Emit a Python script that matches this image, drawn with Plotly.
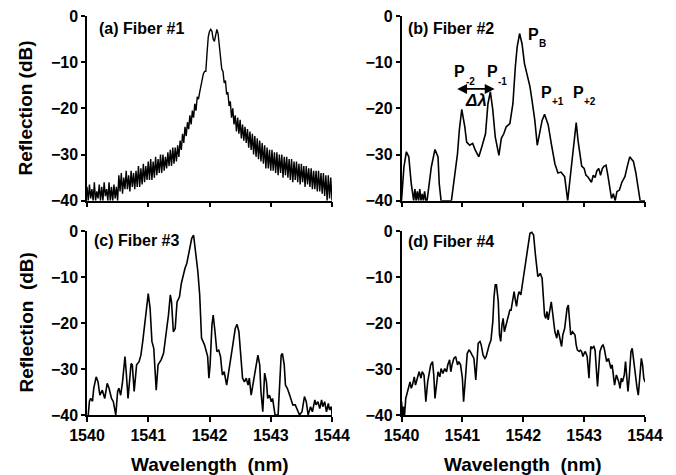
import plotly.graph_objects as go

W, H = 676, 475

# ---------------- data ----------------
wl_a = [round(1540 + 0.02 * i, 2) for i in range(201)]
db_a = [
    -37, -40, -36.5, -39.5, -37.5, -40, -36, -40, -38, -39.5, -36.5, -40, -37, -40, -36, -39,
    -37.5, -40, -36, -40, -37, -40, -36.5, -39.5, -37, -40,
    -34.5, -38, -34, -38.5, -35, -37.5, -33.5, -37.5, -34.5, -38, -33.5, -37, -34, -37.5, -33.5,
    -37, -32.5, -37, -33, -36.5, -32, -36, -32.5, -35.5, -31.5,
    -35.5, -31, -35.5, -31.5, -35, -30.5, -34.5, -31, -34, -30,
    -34, -30, -33.5, -30.5, -33, -29.5, -32.5, -29, -32.5, -28.5,
    -32, -28.5, -31.5, -28, -30.5,
    -27, -29, -25.5, -27.5, -24,
    -26, -23, -24.5, -21.5, -23.5,
    -20.5, -22, -19, -20.5, -17.5,
    -18, -16.5, -15,
    -13.5, -12.5, -12,
    -12, -8, -4.5, -3.3, -2.9, -3.3, -5, -5.5, -3.8, -2.9, -3.8, -7, -8.5, -11.5, -12, -14.5,
    -14, -17, -16.5, -19.5, -18.5, -22, -20, -23.5,
    -21.5, -25, -22, -25.5, -22.5, -26.5, -23.5, -27, -24, -27.5,
    -24.5, -28.5, -25, -29, -25.5, -30, -26, -30.5, -26.5, -31,
    -27, -31.5, -27.5, -32, -28, -33, -28.5, -33, -29, -33.5,
    -29, -33.5, -29.5, -34, -29.5, -34.5, -30, -34, -30, -35,
    -30.5, -34.5, -30.5, -35, -31, -35.5, -31, -36, -31.5, -35.5,
    -31.5, -36, -32, -36.5, -32, -36, -32.5, -37, -32.5, -36.5,
    -33, -37, -33, -37.5, -33.5, -37.5, -33.5, -38, -33.5, -38,
    -34, -38.5, -34, -39, -34.5, -40, -34.5, -39.5, -35, -40,
]

wl_b = [1540.00, 1540.04, 1540.08, 1540.12, 1540.16, 1540.20, 1540.22, 1540.24, 1540.26, 1540.28,
        1540.30, 1540.32, 1540.34, 1540.36, 1540.38, 1540.40, 1540.42, 1540.45, 1540.49, 1540.55,
        1540.60, 1540.62, 1540.65, 1540.82, 1540.86, 1540.92, 1540.95, 1540.99, 1541.04, 1541.07,
        1541.12, 1541.17, 1541.21, 1541.27, 1541.32, 1541.38, 1541.42, 1541.46, 1541.50, 1541.54,
        1541.60, 1541.64, 1541.68, 1541.72, 1541.78, 1541.83, 1541.87, 1541.90, 1541.94, 1541.98,
        1542.02, 1542.07, 1542.11, 1542.14, 1542.19, 1542.23, 1542.27, 1542.31, 1542.35, 1542.41,
        1542.46, 1542.52, 1542.57, 1542.62, 1542.68, 1542.71, 1542.73, 1542.79, 1542.83, 1542.87,
        1542.90, 1542.93, 1542.96, 1543.00, 1543.03, 1543.06, 1543.09, 1543.12, 1543.15, 1543.18,
        1543.21, 1543.24, 1543.27, 1543.30, 1543.33, 1543.36, 1543.39, 1543.42, 1543.45, 1543.48,
        1543.51, 1543.54, 1543.58, 1543.62, 1543.67, 1543.71, 1543.75, 1543.78, 1543.81, 1543.85,
        1543.89, 1543.92, 1544.00]
db_b = [-40, -32.7, -29.4, -30.5, -36.3, -40, -37.5, -40, -38, -40,
        -37.5, -40, -38.5, -40, -38, -40, -40, -36.5, -32.7, -28.9,
        -30.5, -36.3, -40, -40, -35.6, -29.8, -24.7, -20.2, -24, -27.3,
        -28, -27.6, -29, -30.5, -28.3, -25.5, -19, -16.4, -20.4, -26.2,
        -30.2, -26.5, -25.5, -24, -23.3, -19, -11, -6.7, -3.8, -6,
        -10.3, -13.2, -15.3, -17.9, -22.6, -28, -25.5, -22.6, -21.3, -23.6,
        -27.6, -32, -34, -33.8, -34.8, -37.7, -40, -32.7, -27.6, -23.1,
        -27, -30, -32.5, -33, -34.5, -34.8, -35.5, -36, -34.5, -35,
        -33.5, -33, -34.5, -33, -32.5, -32.3, -34.5, -37, -39.5, -38.5,
        -40, -38, -37.7, -36, -34.8, -32.5, -30.5, -31, -31.5, -34,
        -37, -40, -40]

wl_c = [1540.02, 1540.04, 1540.06, 1540.09, 1540.11, 1540.15, 1540.18, 1540.21, 1540.25, 1540.29,
        1540.33, 1540.36, 1540.40, 1540.43, 1540.47, 1540.50, 1540.52, 1540.55, 1540.58, 1540.62,
        1540.64, 1540.67, 1540.72, 1540.74, 1540.77, 1540.81, 1540.85, 1540.88, 1540.91, 1540.94,
        1540.98, 1541.00, 1541.03, 1541.06, 1541.09, 1541.11, 1541.13, 1541.16, 1541.21, 1541.25,
        1541.29, 1541.33, 1541.36, 1541.38, 1541.41, 1541.44, 1541.47, 1541.51, 1541.54, 1541.58,
        1541.60, 1541.63, 1541.67, 1541.71, 1541.74, 1541.77, 1541.81, 1541.84, 1541.87, 1541.92,
        1541.95, 1541.97, 1541.99, 1542.01, 1542.04, 1542.06, 1542.09, 1542.12, 1542.15, 1542.18,
        1542.21, 1542.24, 1542.28, 1542.31, 1542.34, 1542.38, 1542.42, 1542.45, 1542.48, 1542.51,
        1542.54, 1542.57, 1542.60, 1542.63, 1542.65, 1542.68, 1542.72, 1542.76, 1542.79, 1542.82,
        1542.84, 1542.87, 1542.90, 1542.93, 1542.95, 1542.98, 1543.01, 1543.03, 1543.07, 1543.12,
        1543.14, 1543.17, 1543.19, 1543.22, 1543.24, 1543.27, 1543.31, 1543.34, 1543.36, 1543.40,
        1543.43, 1543.47, 1543.51, 1543.55, 1543.58, 1543.61, 1543.65, 1543.68, 1543.72, 1543.74,
        1543.77, 1543.80, 1543.83, 1543.85, 1543.88, 1543.91, 1543.94, 1543.96, 1543.99, 1544.00]
db_c = [-40, -37, -36.4, -37, -34.2, -31.7, -32.8, -35.7, -34.6, -36.4,
        -33.1, -34.2, -36.4, -37.1, -40, -34.9, -34.2, -35.7, -32.8, -27.3,
        -30.6, -36.4, -28.8, -29.1, -34.9, -29.1, -28.4, -27, -24, -20.4,
        -16.1, -13.6, -16.8, -24, -25.5, -29.1, -34.6, -29.1, -28, -26.6,
        -22.6, -18.3, -13.9, -15.4, -21.9, -21.2, -15.4, -14.3, -11.4, -8.8,
        -8.1, -7, -4.5, -1.6, -0.9, -3.8, -8.8, -13.9, -23.3, -24.8,
        -26.2, -27.3, -32, -29.1, -20.4, -18.3, -21.9, -26.2, -25.9, -27.3,
        -31.3, -30.6, -33.5, -30.6, -27.7, -24.8, -21.2, -20.3, -21.9, -27.7,
        -32, -32.8, -32, -33.5, -32, -35.7, -32.8, -29.9, -27, -29.1,
        -34.9, -39.3, -30.9, -32.8, -36.4, -35.7, -37.1, -36.4, -40, -40,
        -33.5, -27, -26.6, -29.1, -33.5, -34.2, -35.7, -37.1, -37.8, -37.8,
        -38.6, -40, -39.3, -36, -37.1, -40, -38.2, -39.3, -36.7, -37.8,
        -37.1, -38.6, -36.7, -38.2, -37.1, -39.3, -37.5, -38.9, -38.2, -40]

wl_d = [1540.00, 1540.02, 1540.03, 1540.05, 1540.07, 1540.10, 1540.12, 1540.14, 1540.16, 1540.18,
        1540.21, 1540.23, 1540.26, 1540.29, 1540.32, 1540.34, 1540.37, 1540.40, 1540.43, 1540.45,
        1540.48, 1540.51, 1540.53, 1540.55, 1540.58, 1540.60, 1540.63, 1540.65, 1540.68, 1540.71,
        1540.74, 1540.76, 1540.79, 1540.81, 1540.83, 1540.86, 1540.89, 1540.92, 1540.94, 1540.97,
        1541.00, 1541.02, 1541.05, 1541.08, 1541.11, 1541.13, 1541.16, 1541.19, 1541.22, 1541.24,
        1541.26, 1541.29, 1541.31, 1541.34, 1541.37, 1541.39, 1541.42, 1541.44, 1541.47, 1541.50,
        1541.52, 1541.54, 1541.56, 1541.59, 1541.61, 1541.63, 1541.65, 1541.67, 1541.69, 1541.72,
        1541.74, 1541.76, 1541.78, 1541.80, 1541.83, 1541.85, 1541.87, 1541.89, 1541.91, 1541.93,
        1541.96, 1541.98, 1542.00, 1542.02, 1542.04, 1542.07, 1542.09, 1542.11, 1542.14, 1542.17,
        1542.20, 1542.22, 1542.24, 1542.26, 1542.28, 1542.31, 1542.33, 1542.35, 1542.37, 1542.39,
        1542.41, 1542.44, 1542.46, 1542.48, 1542.50, 1542.52, 1542.55, 1542.57, 1542.59, 1542.61,
        1542.63, 1542.65, 1542.68, 1542.70, 1542.72, 1542.74, 1542.76, 1542.78, 1542.81, 1542.83,
        1542.85, 1542.87, 1542.89, 1542.92, 1542.94, 1542.96, 1542.98, 1543.00, 1543.02, 1543.05,
        1543.08, 1543.09, 1543.11, 1543.13, 1543.16, 1543.18, 1543.20, 1543.22, 1543.24, 1543.26,
        1543.29, 1543.31, 1543.33, 1543.35, 1543.37, 1543.40, 1543.42, 1543.44, 1543.46, 1543.48,
        1543.50, 1543.53, 1543.55, 1543.57, 1543.59, 1543.61, 1543.63, 1543.66, 1543.68, 1543.70,
        1543.72, 1543.74, 1543.77, 1543.79, 1543.81, 1543.83, 1543.85, 1543.87, 1543.89, 1543.92,
        1543.94, 1543.96, 1543.98, 1544.00]
db_d = [-37.1, -40, -38.2, -40, -36.4, -34.9, -34.2, -32.8, -34.2, -33.5,
        -31.7, -33.5, -32, -30.6, -32, -30.6, -31.3, -37.1, -32.8, -31.3,
        -29.1, -28.4, -31.3, -36.4, -32, -30.6, -31.7, -29.9, -31, -29.9,
        -30.6, -29.1, -28, -30.6, -29.1, -27.7, -27.3, -29.1, -28.4, -29.1,
        -32, -37.1, -32, -26.6, -25.9, -26.2, -27, -27.7, -32.4, -27.7,
        -24.4, -24, -24.8, -27, -27.7, -27.3, -25.5, -24.8, -23.7, -19.7,
        -14.3, -11.7, -11.7, -15.4, -22.6, -24, -20.4, -19, -21.9, -20.4,
        -19.7, -18.3, -17.2, -17.2, -15, -13.2, -15, -16.4, -14.3, -13.2,
        -13.9, -12.1, -10.7, -8.1, -6.3, -4.5, -2.3, -0.5, -0.3, -0.9,
        -5.2, -8.5, -9.9, -9.6, -9.2, -10.3, -13.9, -18.3, -19, -17.5,
        -19.3, -16.8, -15.4, -17.5, -19.7, -21.9, -23.3, -21.5, -22.6, -24,
        -25.1, -22.6, -21.2, -19, -16.8, -16.1, -19, -22.6, -21.9, -22.2,
        -22.6, -24.8, -25.9, -26.2, -25.9, -26.2, -27.3, -26.6, -26.2, -27.3,
        -32, -29.1, -25.1, -25.5, -25.1, -25.9, -29.1, -33.8, -29.9, -26.2,
        -25.1, -24.8, -25.5, -27, -28.4, -27.7, -29.1, -29.9, -29.1, -31.3,
        -33.5, -31.3, -32, -32.8, -34.2, -32, -32.8, -31.3, -28.4, -31.3,
        -34.9, -32, -26.2, -25.5, -27.7, -30.6, -32, -34.2, -35.7, -29.9,
        -27.7, -29.1, -32, -32.8]

x_ticks = [1540, 1541, 1542, 1543, 1544]
y_ticks = [-40, -30, -20, -10, 0]
panel_labels = ["(a) Fiber #1", "(b) Fiber #2", "(c) Fiber #3", "(d) Fiber #4"]
x_title = "Wavelength\u00a0\u00a0(nm)"
y_titles = ["Reflection (dB)", "Reflection\u00a0\u00a0(dB)"]

assert len(wl_a) == len(db_a)
assert len(wl_b) == len(db_b)
assert len(wl_c) == len(db_c)
assert len(wl_d) == len(db_d)

# ---------------- layout helpers ----------------
FONT = "Liberation Sans, Arial, Helvetica, sans-serif"


def px(x):
    return x / W


def py(y):
    return 1 - y / H


x_dom = [[px(87), px(332)], [px(401.5), px(645)]]
y_dom = [[py(200.7), py(16)], [py(415), py(231)]]

fig = go.Figure()
series = [(wl_a, db_a, 1.4), (wl_b, db_b, 1.6), (wl_c, db_c, 1.6), (wl_d, db_d, 1.6)]
for k, (xs, ys, lw) in enumerate(series):
    sfx = "" if k == 0 else str(k + 1)
    fig.add_trace(go.Scatter(x=xs, y=ys, mode="lines", line=dict(color="black", width=lw),
                             xaxis="x" + sfx, yaxis="y" + sfx, showlegend=False,
                             hoverinfo="skip"))

ax_common = dict(showline=True, linecolor="black", linewidth=1.5, showgrid=False,
                 zeroline=False, ticks="outside", tickcolor="black", tickwidth=1.5,
                 automargin=False)
lay = {}
for k in range(4):
    sfx = "" if k == 0 else str(k + 1)
    col = k % 2
    row = k // 2
    lay["xaxis" + sfx] = dict(ax_common, domain=x_dom[col], anchor="y" + sfx,
                              range=[1540, 1544], tickvals=x_ticks, ticklen=5,
                              showticklabels=(row == 1), ticklabelstandoff=0,
                              tickfont=dict(family=FONT, size=16, color="black", weight="bold"))
    lay["yaxis" + sfx] = dict(ax_common, domain=y_dom[row], anchor="x" + sfx,
                              range=[-40, 0], tickvals=y_ticks, ticklen=4,
                              ticklabelstandoff=0,
                              tickfont=dict(family=FONT, size=16, color="black", weight="bold"))

annotations = []
lab_pos = [(97, 28), (406, 28), (92, 240), (406, 241)]
for (lx, ly), txt in zip(lab_pos, panel_labels):
    annotations.append(dict(text=txt, x=px(lx), y=py(ly), xref="paper", yref="paper",
                            xanchor="left", yanchor="middle", showarrow=False,
                            font=dict(family=FONT, size=16, color="black", weight="bold")))

for cx in [209.5, 523]:
    annotations.append(dict(text=x_title, x=px(cx), y=py(464), xref="paper", yref="paper",
                            xanchor="center", yanchor="middle", showarrow=False,
                            font=dict(family=FONT, size=19, color="black", weight="bold")))
for cy, txt in zip([108, 323], y_titles):
    annotations.append(dict(text=txt, x=px(25.5), y=py(cy), xref="paper", yref="paper",
                            xanchor="center", yanchor="middle", showarrow=False, textangle=-90,
                            font=dict(family=FONT, size=19, color="black", weight="bold")))

# peak labels in panel (b)
peak_P = [(527, 34), (453, 72), (486, 72), (540, 92), (572, 92)]
peak_sub = [("B", 538, 44), ("-2", 465, 81.5), ("-1", 497, 81.5), ("+1", 551, 102), ("+2", 583, 102)]
for (pxp, pyp), (s, sx, sy) in zip(peak_P, peak_sub):
    annotations.append(dict(text="P", x=px(pxp), y=py(pyp), xref="paper", yref="paper",
                            xanchor="left", yanchor="middle", showarrow=False, borderpad=0,
                            font=dict(family=FONT, size=16, color="black", weight="bold")))
    annotations.append(dict(text=s, x=px(sx), y=py(sy), xref="paper", yref="paper",
                            xanchor="left", yanchor="middle", showarrow=False, borderpad=0,
                            font=dict(family=FONT, size=10, color="black", weight="bold")))

annotations.append(dict(text="<i>\u0394\u03bb</i>", x=px(476), y=py(100), xref="paper",
                        yref="paper", xanchor="center", yanchor="middle", showarrow=False,
                        font=dict(family=FONT, size=17, color="black", weight="bold")))

# double-headed arrow (delta lambda)
annotations.append(dict(text="", x=1541.53, y=-15.8, ax=1540.89, ay=-15.8,
                        xref="x2", yref="y2", axref="x2", ayref="y2",
                        showarrow=True, arrowhead=2, arrowside="end+start",
                        arrowsize=1.1, arrowwidth=1.8, arrowcolor="black",
                        standoff=0, startstandoff=0))

fig.update_layout(width=W, height=H, margin=dict(l=0, r=0, t=0, b=0),
                  paper_bgcolor="white", plot_bgcolor="white",
                  annotations=annotations, showlegend=False, **lay)

fig.write_html("out.html", config={"displayModeBar": False},
               post_script="document.body.style.margin='0px';")
